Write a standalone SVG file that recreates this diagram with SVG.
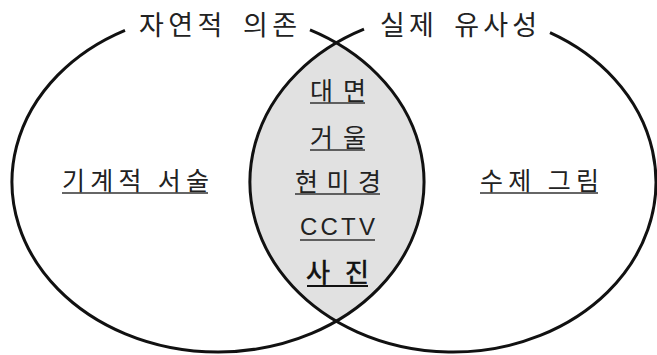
<svg xmlns="http://www.w3.org/2000/svg" width="657" height="355" viewBox="0 0 657 355">
  <style>
    .ring { fill: none; stroke: #111; stroke-width: 3; }
    .t { font-family: "Noto Sans CJK KR", "Noto Sans", sans-serif; fill: #222; }
    .title { font-size: 27px; word-spacing: 6px; }
    .lbl { font-size: 25px; }
    .latin { font-family: "Liberation Sans", "Noto Sans CJK KR", sans-serif; font-size: 24px; }
    .strong { font-size: 26px; fill: #111; stroke: #111; stroke-width: 0.6; }
    .ul { stroke: #333; stroke-width: 1.6; }
    .ul-strong { stroke: #111; stroke-width: 2.2; }
  </style>
  <defs>
    <clipPath id="clipLeft">
      <ellipse cx="218" cy="182" rx="206" ry="170"/>
    </clipPath>
  </defs>
  <rect width="657" height="355" fill="#fff"/>

  <!-- overlap region -->
  <ellipse cx="453" cy="182" rx="203" ry="170" fill="#e1e1e1" clip-path="url(#clipLeft)"/>

  <g id="set-natural-dependence">
    <path class="ring" d="M310,29.9 A206,170 0 1 1 125,30.3"/>
    <text class="t title" x="139" y="35" textLength="158" lengthAdjust="spacing">자연적 의존</text>
  </g>

  <g id="set-real-similarity">
    <path class="ring" d="M550,32.7 A203,170 0 1 1 364,29.2"/>
    <text class="t title" x="380" y="35" textLength="157" lengthAdjust="spacing">실제 유사성</text>
  </g>

  <g id="node-mechanical">
    <text class="t lbl" x="62" y="190" textLength="147" lengthAdjust="spacing">기계적 서술</text>
    <line class="ul" x1="62" y1="193" x2="208" y2="193"/>
  </g>

  <g id="node-handmade">
    <text class="t lbl" x="480" y="190" textLength="119" lengthAdjust="spacing">수제 그림</text>
    <line class="ul" x1="480" y1="193" x2="598" y2="193"/>
  </g>

  <g id="node-face">
    <text class="t lbl" x="310" y="100" textLength="56" lengthAdjust="spacing">대면</text>
    <line class="ul" x1="310" y1="103" x2="365" y2="103"/>
  </g>

  <g id="node-mirror">
    <text class="t lbl" x="310" y="147" textLength="56" lengthAdjust="spacing">거울</text>
    <line class="ul" x1="310" y1="150" x2="365" y2="150"/>
  </g>

  <g id="node-microscope">
    <text class="t lbl" x="295" y="191" textLength="86" lengthAdjust="spacing">현미경</text>
    <line class="ul" x1="295" y1="194" x2="380" y2="194"/>
  </g>

  <g id="node-cctv">
    <text class="t latin" x="300" y="235" textLength="75" lengthAdjust="spacing">CCTV</text>
    <line class="ul" x1="300" y1="240" x2="375" y2="240"/>
  </g>

  <g id="node-photo">
    <text class="t strong" x="306" y="282" textLength="63" lengthAdjust="spacing">사진</text>
    <line class="ul-strong" x1="307" y1="286" x2="368" y2="286"/>
  </g>
</svg>
